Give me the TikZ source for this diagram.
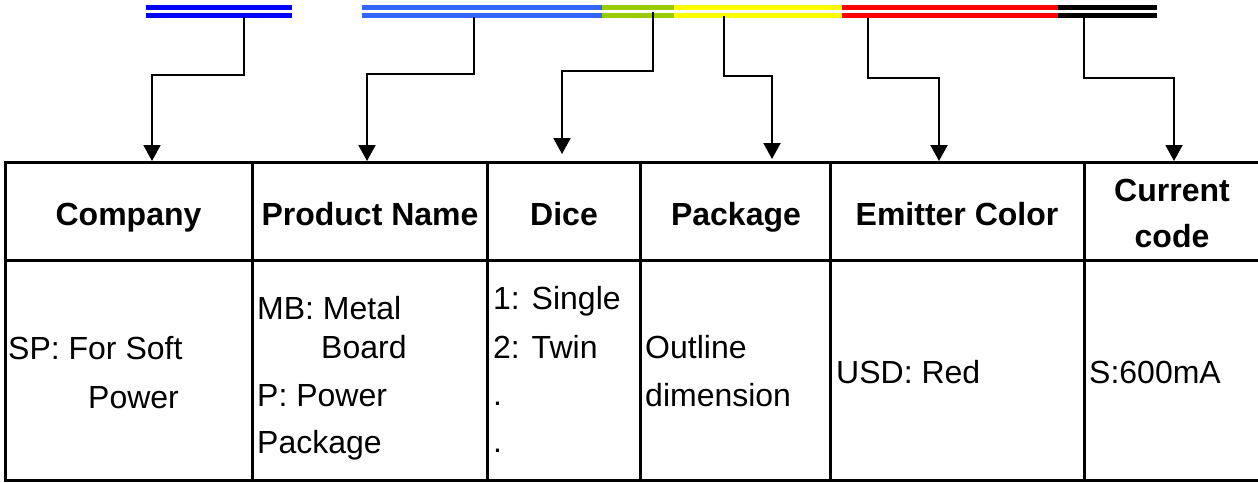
\documentclass[tikz,border=0pt]{standalone}
\usepackage{fontspec}
\setmainfont{Liberation Sans}
\usetikzlibrary{arrows.meta}
\definecolor{dblue}{HTML}{0000FF}
\definecolor{lblue}{HTML}{3366FF}
\definecolor{lgreen}{HTML}{99CC00}
\definecolor{yel}{HTML}{FFFF00}
\definecolor{rd}{HTML}{FF0000}
\begin{document}
\begin{tikzpicture}[x=1pt,y=-1pt,
  cell/.style={draw, line width=3pt, anchor=north west, inner sep=0pt, outer sep=0pt},
  hd/.style={font=\fontsize{32}{46}\selectfont\bfseries, anchor=base, inner sep=0pt},
  tx/.style={font=\fontsize{32}{46}\selectfont, anchor=base west, inner sep=0pt},
  conn/.style={line width=2pt, -{Triangle[width=17pt,length=16pt]}},
  bar/.style={line width=5pt}]
\useasboundingbox (0,0) rectangle (1258,482);
\fill[white] (0,0) rectangle (1258,482);
% colour bars
\foreach \y in {7.5,15.5}{
  \draw[bar,dblue] (146,\y) -- (292,\y);
  \draw[bar,lblue] (362,\y) -- (602,\y);
  \draw[bar,lgreen] (602,\y) -- (674,\y);
  \draw[bar,yel] (674,\y) -- (842,\y);
  \draw[bar,rd] (842,\y) -- (1058,\y);
  \draw[bar,black] (1058,\y) -- (1157,\y);
}
% table cells
\node[cell, minimum width=247pt, minimum height=98pt] (h1) at (5,162) {};
\node[cell, minimum width=235pt, minimum height=98pt] (h2) at (252,162) {};
\node[cell, minimum width=153pt, minimum height=98pt] (h3) at (487,162) {};
\node[cell, minimum width=190pt, minimum height=98pt] (h4) at (640,162) {};
\node[cell, minimum width=254pt, minimum height=98pt] (h5) at (830,162) {};
\node[cell, minimum width=200pt, minimum height=98pt] (h6) at (1084,162) {};
\node[cell, minimum width=247pt, minimum height=220pt] (d1) at (5,260) {};
\node[cell, minimum width=235pt, minimum height=220pt] (d2) at (252,260) {};
\node[cell, minimum width=153pt, minimum height=220pt] (d3) at (487,260) {};
\node[cell, minimum width=190pt, minimum height=220pt] (d4) at (640,260) {};
\node[cell, minimum width=254pt, minimum height=220pt] (d5) at (830,260) {};
\node[cell, minimum width=200pt, minimum height=220pt] (d6) at (1084,260) {};
% connector points
\coordinate (b1) at (244,17);  \coordinate (e1) at (152,75);  \coordinate (t1) at (152,161);
\coordinate (b2) at (474,17);  \coordinate (e2) at (367,74);  \coordinate (t2) at (367,161);
\coordinate (b3) at (653,12);  \coordinate (e3) at (562,71);  \coordinate (t3) at (562,154);
\coordinate (b4) at (724,16);  \coordinate (e4) at (772,76);  \coordinate (t4) at (772,159);
\coordinate (b5) at (868,18);  \coordinate (e5) at (939,78);  \coordinate (t5) at (939,161);
\coordinate (b6) at (1084,18); \coordinate (e6) at (1174,78); \coordinate (t6) at (1174,161);
\foreach \i in {1,...,6}{
  \draw[conn] (b\i) |- (e\i) -- (t\i);
}
% header texts
\node[hd] (n1) at (128.5,225) {Company};
\node[hd] (n2) at (370,225) {Product Name};
\node[hd] (n3) at (564,225) {Dice};
\node[hd] (n4) at (736,225) {Package};
\node[hd] (n5) at (957,225) {Emitter Color};
\node[hd] (n6a) at (1172,201) {Current};
\node[hd] (n6b) at (1172,247) {code};
% data texts
\node[tx] (s1) at (8,359) {SP: For Soft};
\node[tx] (s2) at (88,408) {Power};
\node[tx] (p1) at (257,319) {MB: Metal};
\node[tx] (p2) at (321,358) {Board};
\node[tx] (p3) at (257,406) {P: Power};
\node[tx] (p4) at (257,453) {Package};
\node[tx] (q1) at (493,309) {1: Single};
\node[tx] (q2) at (493,358) {2: Twin};
\node[tx] (q3) at (493,405) {.};
\node[tx] (q4) at (493,452) {.};
\node[tx] (r1) at (645,358) {Outline};
\node[tx] (r2) at (645,406) {dimension};
\node[tx] (u1) at (836,383) {USD: Red};
\node[tx] (v1) at (1089,383) {S:600mA};
\end{tikzpicture}
\end{document}
